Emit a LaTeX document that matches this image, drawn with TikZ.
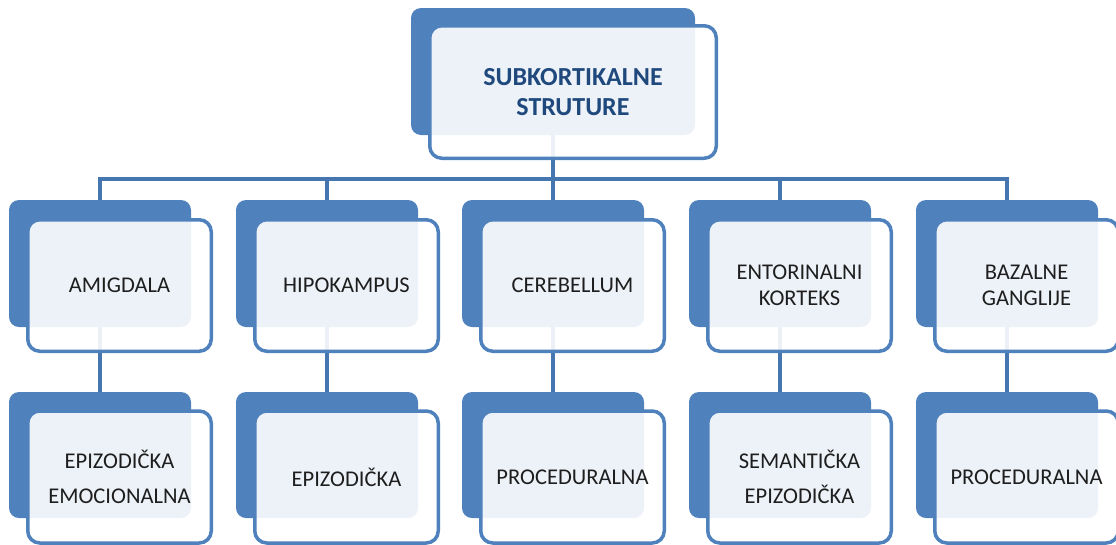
\documentclass[tikz,border=0pt]{standalone}
\usepackage{fontspec}
\setmainfont{Carlito}
\definecolor{accent}{HTML}{4F81BD}
\definecolor{linkblue}{HTML}{4676AF}
\definecolor{titleblue}{HTML}{1F497D}
\definecolor{labelgray}{HTML}{1E1E1E}
\tikzset{
  backbox/.style={fill=accent, draw=none, rounded corners=10pt, inner sep=0pt},
  frontbox/.style={fill=white, fill opacity=0.9, text opacity=1, draw=accent,
    line width=3.5pt, rounded corners=12pt, align=center, inner sep=0pt,
    text=labelgray},
  link/.style={draw=linkblue, line width=4pt},
  toptext/.style={font=\fontsize{26}{30}\selectfont\bfseries, text=titleblue},
  midtext/.style={font=\fontsize{22.5}{26}\selectfont},
  lowtext/.style={font=\fontsize{22.5}{35}\selectfont},
}
\begin{document}
\begin{tikzpicture}[x=1pt, y=-1pt]
\useasboundingbox[fill=white] (0,0) rectangle (1116,544);

% back panels
\node[backbox, minimum width=284pt, minimum height=127pt] (tb) at (553,71.5) {};
\foreach \i/\cx in {1/100, 2/327, 3/553, 4/780, 5/1007} {
  \node[backbox, minimum width=182pt, minimum height=127pt] (b\i) at (\cx,263.5) {};
  \node[backbox, minimum width=182pt, minimum height=126pt] (c\i) at (\cx,455) {};
}

% connectors (drawn before the front panels so they show faintly through them)
\coordinate (bus) at (553,179);
\draw[link] (tb.south) -- (tb.south |- bus);
\draw[link] (b1.north) -- (b1.north |- bus) -- (b5.north |- bus) -- (b5.north);
\foreach \i in {2,3,4} {
  \draw[link] (b\i.north) -- (b\i.north |- bus);
}
\foreach \i in {1,...,5} {
  \draw[link] (b\i.south) -- (c\i.north);
}

% front panels with labels
\node[frontbox, toptext, minimum width=286.5pt, minimum height=132.5pt] (tf) at (573,92)
  {SUBKORTIKALNE\\STRUTURE};

\node[frontbox, midtext, minimum width=183.5pt, minimum height=131.5pt] (f1) at (119.5,285.5) {AMIGDALA};
\node[frontbox, midtext, minimum width=183.5pt, minimum height=131.5pt] (f2) at (346.5,285.5) {HIPOKAMPUS};
\node[frontbox, midtext, minimum width=183.5pt, minimum height=131.5pt] (f3) at (572.5,285.5) {CEREBELLUM};
\node[frontbox, midtext, minimum width=183.5pt, minimum height=131.5pt] (f4) at (799.5,285.5) {ENTORINALNI\\KORTEKS};
\node[frontbox, midtext, minimum width=183.5pt, minimum height=131.5pt] (f5) at (1026.5,285.5) {BAZALNE\\GANGLIJE};

\node[frontbox, lowtext, minimum width=183.5pt, minimum height=132pt] (g1) at (119.5,477) {EPIZODIČKA\\EMOCIONALNA};
\node[frontbox, lowtext, minimum width=183.5pt, minimum height=132pt] (g2) at (346.5,477) {EPIZODIČKA};
\node[frontbox, lowtext, minimum width=183.5pt, minimum height=132pt] (g3) at (572.5,477) {PROCEDURALNA};
\node[frontbox, lowtext, minimum width=183.5pt, minimum height=132pt] (g4) at (799.5,477) {SEMANTIČKA\\EPIZODIČKA};
\node[frontbox, lowtext, minimum width=183.5pt, minimum height=132pt] (g5) at (1026.5,477) {PROCEDURALNA};
\end{tikzpicture}
\end{document}
